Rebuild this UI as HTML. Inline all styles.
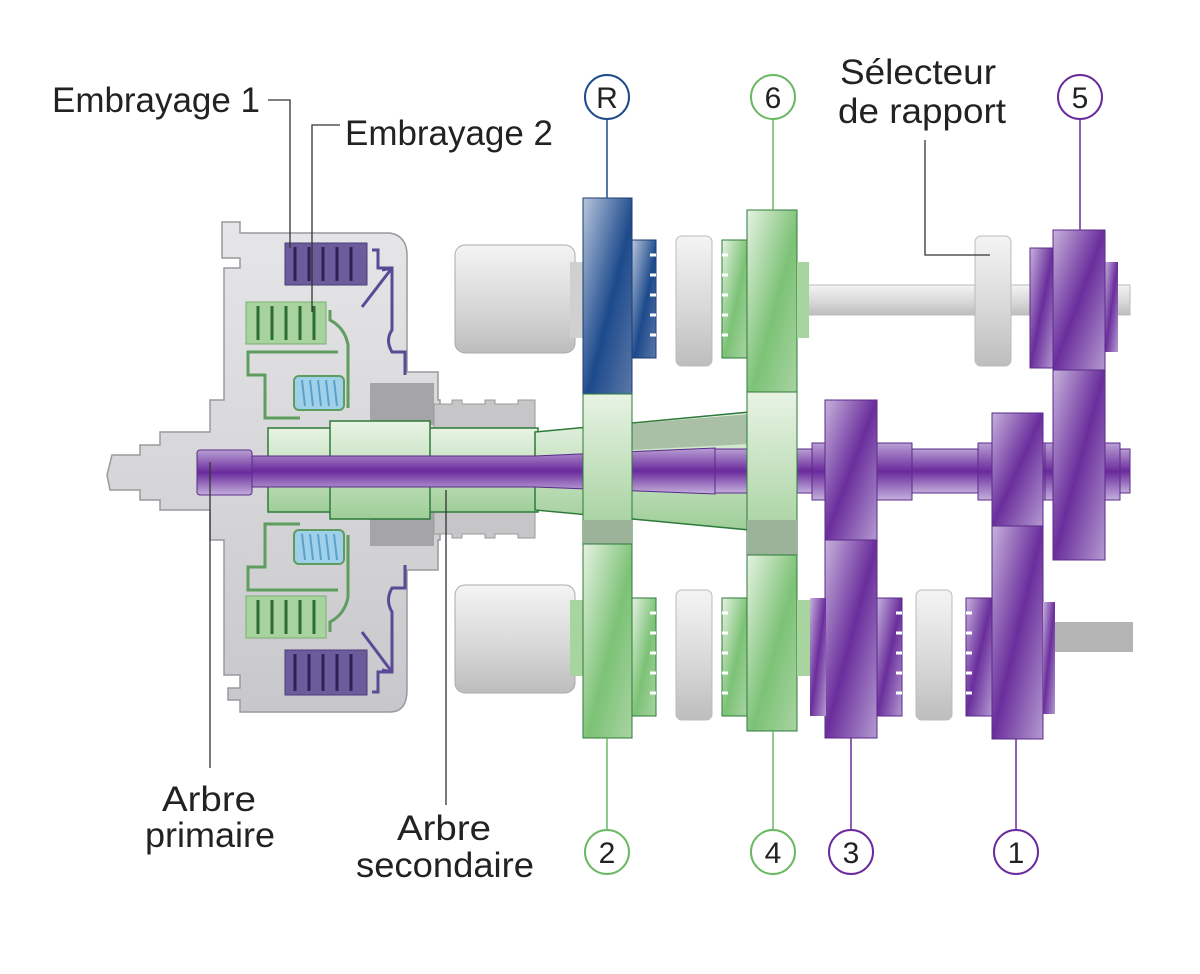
<!DOCTYPE html>
<html><head><meta charset="utf-8"><style>body{margin:0;background:#fff}svg{display:block}</style></head><body>
<svg width="1200" height="974" viewBox="0 0 1200 974" xmlns="http://www.w3.org/2000/svg" font-family="Liberation Sans, sans-serif">
<defs>
<linearGradient id="pu" x1="0" y1="0" x2="1" y2="1"><stop offset="0" stop-color="#c7b2dc"/><stop offset="0.5" stop-color="#6a2e9c"/><stop offset="1" stop-color="#b49ad0"/></linearGradient>
<linearGradient id="puh" x1="0" y1="0" x2="0" y2="1"><stop offset="0" stop-color="#b9a0d4"/><stop offset="0.5" stop-color="#6a2a9c"/><stop offset="1" stop-color="#c4b0dc"/></linearGradient>
<linearGradient id="gr" x1="0" y1="0" x2="1" y2="1"><stop offset="0" stop-color="#e6f2e2"/><stop offset="0.55" stop-color="#7cc276"/><stop offset="1" stop-color="#a8d4a2"/></linearGradient>
<linearGradient id="grl" x1="0" y1="0" x2="0" y2="1"><stop offset="0" stop-color="#e8f3e4"/><stop offset="1" stop-color="#9fce98"/></linearGradient>
<linearGradient id="bl" x1="0" y1="0" x2="1" y2="1"><stop offset="0" stop-color="#b8c6dc"/><stop offset="0.55" stop-color="#1d4a8c"/><stop offset="1" stop-color="#5c78a8"/></linearGradient>
<linearGradient id="gy" x1="0" y1="0" x2="0" y2="1"><stop offset="0" stop-color="#f4f4f4"/><stop offset="0.6" stop-color="#d6d6d6"/><stop offset="1" stop-color="#bdbdbd"/></linearGradient>
<linearGradient id="hs" x1="0" y1="0" x2="0" y2="1"><stop offset="0" stop-color="#e6e6e8"/><stop offset="1" stop-color="#c8c8cc"/></linearGradient>
</defs>

<path d="M222,222 H240 V233 H390 Q407,236 407,255 V372 H438 V400 H440 V540 H438 V570 H407 V690 Q407,712 390,712 H240 V700 H228 V688 H240 V675 H224 V540 H210 V510 H160 V500 H140 V490 H110 L107,475 L112,455 H140 V445 H160 V432 H210 V400 H224 V268 H240 V258 H222 Z" fill="url(#hs)" stroke="#9a9a9e" stroke-width="1.5"/>
<rect x="285" y="243" width="82" height="42" fill="#6d5c9c" stroke="#4a3b7a"/>
<rect x="285" y="650" width="82" height="45" fill="#6d5c9c" stroke="#4a3b7a"/>
<g stroke="#2c2256" stroke-width="3"><path d="M295,247V281M309,247V281M323,247V281M337,247V281M351,247V281M295,654V691M309,654V691M323,654V691M337,654V691M351,654V691"/></g>
<rect x="246" y="302" width="80" height="42" fill="#a8d29e" stroke="#79b070"/>
<rect x="246" y="596" width="80" height="42" fill="#a8d29e" stroke="#79b070"/>
<g stroke="#2d6d34" stroke-width="3"><path d="M258,306V340M272,306V340M286,306V340M300,306V340M314,306V340M258,600V634M272,600V634M286,600V634M300,600V634M314,600V634"/></g>
<g fill="none" stroke="#5a4a96" stroke-width="3">
<path d="M372,250 H378 V268 H392 V330 Q385,340 392,352 H405 V375"/><path d="M362,307 L392,268 M392,268 L382,270 M392,268 L392,280"/>
<path d="M372,692 H378 V672 H392 V612 Q385,600 392,588 H405 V565"/><path d="M362,632 L392,672 M392,672 L382,670 M392,672 L392,660"/>
</g>
<g fill="none" stroke="#5f9d5e" stroke-width="3">
<path d="M330,310 V320 Q345,328 348,345 V408 M338,352 H248 V375 H265 V418 H300"/>
<path d="M330,632 V622 Q345,614 348,597 V535 M338,590 H248 V567 H265 V524 H300"/>
</g>
<rect x="294" y="376" width="50" height="34" rx="5" fill="#9fd0ea" stroke="#5f9d5e" stroke-width="2"/>
<rect x="294" y="530" width="50" height="34" rx="5" fill="#9fd0ea" stroke="#5f9d5e" stroke-width="2"/>
<g stroke="#5aa0c8" stroke-width="2"><path d="M302,380l3,26M310,380l3,26M318,380l3,26M326,380l3,26M334,380l3,26M302,534l3,26M310,534l3,26M318,534l3,26M326,534l3,26M334,534l3,26"/></g>
<rect x="370" y="383" width="64" height="42" fill="#a5a5a8"/><rect x="370" y="510" width="64" height="36" fill="#a5a5a8"/>
<path d="M434,404 H452 V400 H462 V404 H485 V400 H495 V404 H518 V400 H535 V538 H518 V534 H495 V538 H485 V534 H462 V538 H452 V534 H434 Z" fill="#c6c6c8" stroke="#999" />
<rect x="268" y="428" width="270" height="84" fill="url(#grl)" stroke="#2d7a3a" stroke-width="1.5"/>
<rect x="330" y="421" width="100" height="98" fill="url(#grl)" stroke="#2d7a3a" stroke-width="1.5"/>
<path d="M535,432 L750,412 V530 L535,510 Z" fill="url(#grl)" stroke="#2d7a3a" stroke-width="1.5"/>
<path d="M630,424 L750,414 V444 L630,450Z" fill="#a9bfa6"/>
<path d="M250,456 H535 L715,448 V494 L535,487 H250 Z" fill="url(#puh)" stroke="#5a2a8a"/>
<rect x="715" y="449" width="415" height="44" fill="url(#puh)" stroke="#5a2a8a"/>
<rect x="197" y="450" width="55" height="45" rx="3" fill="url(#puh)" stroke="#5a2a8a"/>

<rect x="455" y="245" width="120" height="108" rx="10" fill="url(#gy)" stroke="#aaa"/>
<rect x="570" y="262" width="14" height="76" fill="#d0d0d0"/>
<rect x="800" y="285" width="330" height="30" fill="url(#gy)" stroke="#bbb"/>
<rect x="455" y="585" width="120" height="108" rx="10" fill="url(#gy)" stroke="#aaa"/>
<rect x="570" y="600" width="14" height="76" fill="#a8d4a0"/>
<rect x="1055" y="622" width="78" height="30" fill="#b4b4b4"/>

<rect x="583" y="198" width="49" height="196" fill="url(#bl)" stroke="#1d3c72"/>
<rect x="583" y="394" width="49" height="150" fill="url(#grl)" stroke="#2d7a3a"/>
<rect x="583" y="520" width="49" height="24" fill="#9cb39a"/>
<rect x="583" y="544" width="49" height="194" fill="url(#gr)" stroke="#2d7a3a"/>
<rect x="747" y="210" width="50" height="182" fill="url(#gr)" stroke="#2d7a3a"/>
<rect x="747" y="392" width="50" height="163" fill="url(#grl)" stroke="#2d7a3a"/>
<rect x="747" y="520" width="50" height="35" fill="#9cb39a"/>
<rect x="747" y="555" width="50" height="176" fill="url(#gr)" stroke="#2d7a3a"/>
<rect x="797" y="262" width="12" height="76" fill="#a8d4a0"/>
<rect x="797" y="600" width="20" height="76" fill="#a8d4a0"/>

<rect x="632" y="240" width="24" height="118" fill="url(#bl)" stroke="#1d3c72"/>
<rect x="722" y="240" width="25" height="118" fill="url(#gr)" stroke="#2d7a3a"/>
<rect x="676" y="236" width="36" height="130" rx="6" fill="url(#gy)" stroke="#bbb"/>
<rect x="632" y="598" width="24" height="118" fill="url(#gr)" stroke="#2d7a3a"/>
<rect x="722" y="598" width="25" height="118" fill="url(#gr)" stroke="#2d7a3a"/>
<rect x="676" y="590" width="36" height="130" rx="6" fill="url(#gy)" stroke="#bbb"/>
<rect x="877" y="598" width="25" height="118" fill="url(#pu)" stroke="#5a2a8a"/>
<rect x="966" y="598" width="26" height="118" fill="url(#pu)" stroke="#5a2a8a"/>
<rect x="916" y="590" width="36" height="130" rx="6" fill="url(#gy)" stroke="#bbb"/>
<rect x="975" y="236" width="36" height="130" rx="6" fill="url(#gy)" stroke="#bbb"/>
<!-- sync teeth -->
<g stroke="#fff" stroke-width="3">
<path d="M650,255h6M650,275h6M650,295h6M650,315h6M650,335h6M722,255h6M722,275h6M722,295h6M722,315h6M722,335h6"/>
<path d="M650,613h6M650,633h6M650,653h6M650,673h6M650,693h6M722,613h6M722,633h6M722,653h6M722,673h6M722,693h6"/>
<path d="M896,613h6M896,633h6M896,653h6M896,673h6M896,693h6M966,613h6M966,633h6M966,653h6M966,673h6M966,693h6"/>
<path d="M1030,263h6M1030,283h6M1030,303h6M1030,323h6M1030,343h6"/>
</g>

<rect x="812" y="443" width="100" height="57" fill="url(#puh)" stroke="#5a2a8a"/>
<rect x="825" y="400" width="52" height="140" fill="url(#pu)" stroke="#5a2a8a"/>
<rect x="825" y="540" width="52" height="198" fill="url(#pu)" stroke="#5a2a8a"/>
<rect x="810" y="598" width="16" height="118" fill="url(#pu)"/>
<rect x="978" y="443" width="80" height="57" fill="url(#puh)" stroke="#5a2a8a"/>
<rect x="1045" y="443" width="75" height="57" fill="url(#puh)" stroke="#5a2a8a"/>
<rect x="992" y="413" width="51" height="113" fill="url(#pu)" stroke="#5a2a8a"/>
<rect x="992" y="526" width="51" height="213" fill="url(#pu)" stroke="#5a2a8a"/>
<rect x="1043" y="602" width="12" height="112" fill="url(#pu)"/>
<rect x="1030" y="248" width="24" height="120" fill="url(#pu)" stroke="#5a2a8a"/>
<rect x="1105" y="262" width="13" height="90" fill="url(#pu)"/>
<rect x="1053" y="230" width="52" height="140" fill="url(#pu)" stroke="#5a2a8a"/>
<rect x="1053" y="370" width="52" height="190" fill="url(#pu)" stroke="#5a2a8a"/>

<g fill="none" stroke="#333" stroke-width="1.3">
<path d="M268,100 H290 V248"/><path d="M340,125 H312 V312"/>
<path d="M925,140 V255 H990"/>
<path d="M210,462 V768"/><path d="M446,490 V805"/>
</g>
<g fill="none" stroke-width="1.5">
<path d="M607,119 V198" stroke="#1d4a8a"/><path d="M773,119 V210" stroke="#6ab864"/><path d="M1080,119 V230" stroke="#6a2a9c"/>
<path d="M607,738 V830" stroke="#6ab864"/><path d="M773,731 V830" stroke="#6ab864"/><path d="M851,738 V830" stroke="#6a2a9c"/><path d="M1016,739 V830" stroke="#6a2a9c"/>
</g>
<g fill="#fff" stroke-width="2">
<circle cx="607" cy="97" r="22" stroke="#1d4a8a"/><circle cx="773" cy="97" r="22" stroke="#6ab864"/><circle cx="1080" cy="97" r="22" stroke="#6a2a9c"/>
<circle cx="607" cy="852" r="22" stroke="#6ab864"/><circle cx="773" cy="852" r="22" stroke="#6ab864"/><circle cx="851" cy="852" r="22" stroke="#6a2a9c"/><circle cx="1016" cy="852" r="22" stroke="#6a2a9c"/>
</g>
<g font-size="30" text-anchor="middle" fill="#222">
<text x="607" y="108">R</text><text x="773" y="108">6</text><text x="1080" y="108">5</text>
<text x="607" y="863">2</text><text x="773" y="863">4</text><text x="851" y="863">3</text><text x="1016" y="863">1</text>
</g>
<g font-size="35" fill="#222">
<text x="52" y="112" textLength="208" lengthAdjust="spacingAndGlyphs">Embrayage 1</text>
<text x="345" y="145" textLength="208" lengthAdjust="spacingAndGlyphs">Embrayage 2</text>
<text x="840" y="84" textLength="156" lengthAdjust="spacingAndGlyphs">Sélecteur</text>
<text x="838" y="123" textLength="168" lengthAdjust="spacingAndGlyphs">de rapport</text>
<text x="162" y="811" textLength="94" lengthAdjust="spacingAndGlyphs">Arbre</text>
<text x="145" y="847" textLength="130" lengthAdjust="spacingAndGlyphs">primaire</text>
<text x="397" y="840" textLength="94" lengthAdjust="spacingAndGlyphs">Arbre</text>
<text x="356" y="877" textLength="178" lengthAdjust="spacingAndGlyphs">secondaire</text>
</g>
</svg>
</body></html>
